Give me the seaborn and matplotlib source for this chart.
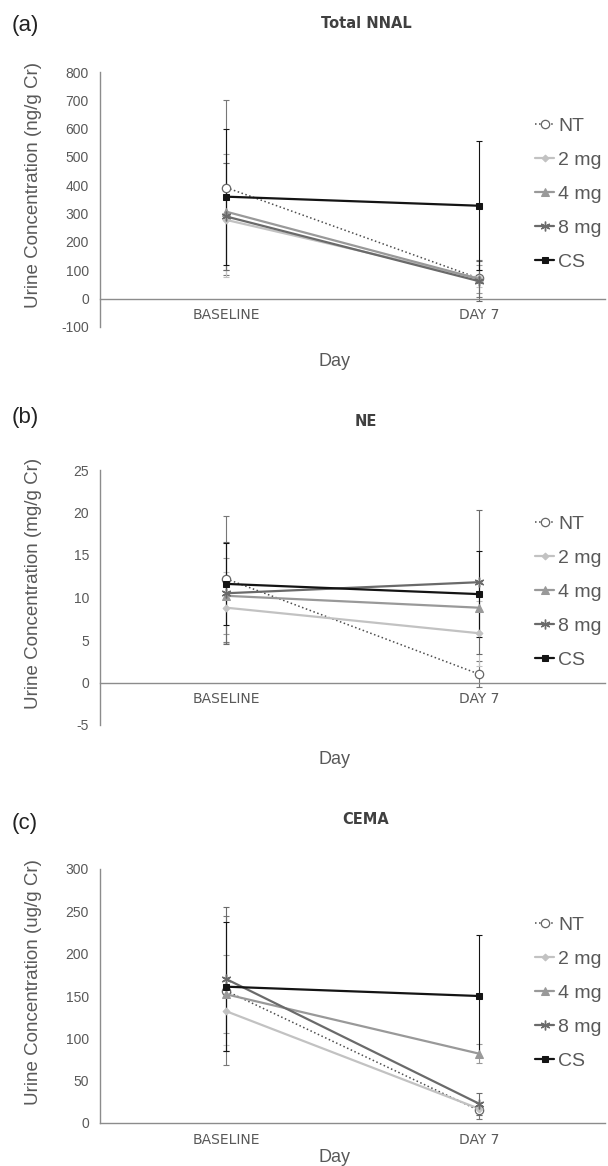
import matplotlib.pyplot as plt
import pandas as pd
import seaborn as sns
from matplotlib.font_manager import FontProperties

days = ["BASELINE", "DAY 7"]
groups = ["NT", "2 mg", "4 mg", "8 mg", "CS"]

# (a) Total NNAL, ng/g Cr
nnal_baseline = [392, 278, 307, 290, 360]
nnal_day7 = [72, 72, 70, 62, 328]
nnal_sd_baseline = [310, 200, 205, 190, 240]
nnal_sd_day7 = [65, 30, 50, 70, 227]

# (b) NE, mg/g Cr
ne_baseline = [12.2, 8.8, 10.2, 10.5, 11.6]
ne_day7 = [1.0, 5.8, 8.8, 11.8, 10.4]
ne_sd_baseline = [7.4, 4.2, 4.5, 6.0, 4.8]
ne_sd_day7 = [1.5, 3.8, 3.0, 8.5, 5.1]

# (c) CEMA, ug/g Cr
cema_baseline = [156, 132, 152, 170, 161]
cema_day7 = [15, 17, 82, 23, 150]
cema_sd_baseline = [88, 40, 46, 85, 76]
cema_sd_day7 = [10, 8, 11, 13, 72]

styles = {
    "NT": dict(color="#4d4d4d", marker="o", linestyle=":", markerfacecolor="white",
               markeredgecolor="#666666", markersize=6, linewidth=1.1, markeredgewidth=0.9),
    "2 mg": dict(color="#c2c2c2", marker="D", linestyle="-", markersize=3.5, linewidth=1.6,
                 markeredgecolor="#c2c2c2"),
    "4 mg": dict(color="#999999", marker="^", linestyle="-", markersize=5.5, linewidth=1.6,
                 markeredgecolor="#999999"),
    "8 mg": dict(color="#6a6a6a", marker=(6, 2, 0), linestyle="-", markersize=7,
                 markeredgewidth=1.0, linewidth=1.6, markeredgecolor="#6a6a6a"),
    "CS": dict(color="#141414", marker="s", linestyle="-", markersize=5, linewidth=1.6,
               markeredgecolor="#141414"),
}

GRAY = "#595959"
AXIS = "#8c8c8c"
W, H = 608, 1166


def make_df(base, day7, sd_base, sd_day7):
    rows = []
    for i, g in enumerate(groups):
        rows.append({"group": g, "day": days[0], "value": base[i], "sd": sd_base[i]})
        rows.append({"group": g, "day": days[1], "value": day7[i], "sd": sd_day7[i]})
    return pd.DataFrame(rows)


panels = [
    dict(letter="(a)", title="Total NNAL", ylabel="Urine Concentration (ng/g Cr)",
         df=make_df(nnal_baseline, nnal_day7, nnal_sd_baseline, nnal_sd_day7),
         yticks=list(range(-100, 801, 100)), top=72, bottom=327,
         letter_y=25, title_y=23, day_y=362, legend_y=194),
    dict(letter="(b)", title="NE", ylabel="Urine Concentration (mg/g Cr)",
         df=make_df(ne_baseline, ne_day7, ne_sd_baseline, ne_sd_day7),
         yticks=list(range(-5, 26, 5)), top=470, bottom=725,
         letter_y=417, title_y=422, day_y=760, legend_y=592),
    dict(letter="(c)", title="CEMA", ylabel="Urine Concentration (ug/g Cr)",
         df=make_df(cema_baseline, cema_day7, cema_sd_baseline, cema_sd_day7),
         yticks=list(range(0, 301, 50)), top=869, bottom=1123,
         letter_y=823, title_y=820, day_y=1157, legend_y=993),
]

sns.set_theme(style="white")
plt.rcParams["font.family"] = ["Liberation Sans", "DejaVu Sans"]
plt.rcParams["axes.unicode_minus"] = False

cat_font = FontProperties(family="DejaVu Sans", stretch="normal", size=10)
title_font = FontProperties(family="DejaVu Sans", stretch="normal", weight="bold", size=10.5)

fig = plt.figure(figsize=(W / 100, H / 100), dpi=100)

for p in panels:
    left, right = 100, 605
    ax = fig.add_axes([left / W, 1 - p["bottom"] / H, (right - left) / W,
                       (p["bottom"] - p["top"]) / H])
    df = p["df"]
    for g in groups:
        sub = df[df["group"] == g]
        st = styles[g]
        sns.lineplot(data=sub, x="day", y="value", ax=ax, label=g, errorbar=None,
                     zorder=3, **st)
        ax.errorbar(sub["day"], sub["value"], yerr=sub["sd"], fmt="none",
                    ecolor=st["color"] if g != "NT" else "#777777",
                    elinewidth=0.8, capsize=2, capthick=0.8, zorder=2)

    ax.set_xlim(-0.5, 1.5)
    ax.set_ylim(p["yticks"][0], p["yticks"][-1])
    ax.set_yticks(p["yticks"])
    ax.set_xlabel("")
    ax.set_ylabel(p["ylabel"], fontsize=13.5, color=GRAY)
    ax.yaxis.set_label_coords(-0.115, 0.555)

    for s in ["top", "right"]:
        ax.spines[s].set_visible(False)
    ax.spines["left"].set_color(AXIS)
    ax.spines["bottom"].set_color(AXIS)
    ax.spines["left"].set_linewidth(1.0)
    ax.spines["bottom"].set_linewidth(1.0)
    ax.spines["bottom"].set_position(("data", 0))

    ax.tick_params(axis="y", length=0, pad=8, labelsize=10, labelcolor=GRAY)
    ax.tick_params(axis="x", length=0, pad=7, labelcolor=GRAY)
    for lab in ax.get_xticklabels():
        lab.set_fontproperties(cat_font)

    ax.legend(loc="center left", bbox_to_anchor=(535 / W, 1 - p["legend_y"] / H),
              bbox_transform=fig.transFigure, frameon=False, fontsize=14,
              handlelength=1.0, handletextpad=0.2, labelspacing=0.85,
              borderaxespad=0, borderpad=0, labelcolor=GRAY)

    fig.text(12 / W, 1 - p["letter_y"] / H, p["letter"], fontsize=16, color="#222222",
             va="center", ha="left")
    fig.text(366 / W, 1 - p["title_y"] / H, p["title"], fontproperties=title_font,
             color="#404040", va="center", ha="center")
    fig.text(335 / W, 1 - p["day_y"] / H, "Day", fontsize=13, color=GRAY,
             va="center", ha="center")

fig.savefig("out.png", dpi=100)
